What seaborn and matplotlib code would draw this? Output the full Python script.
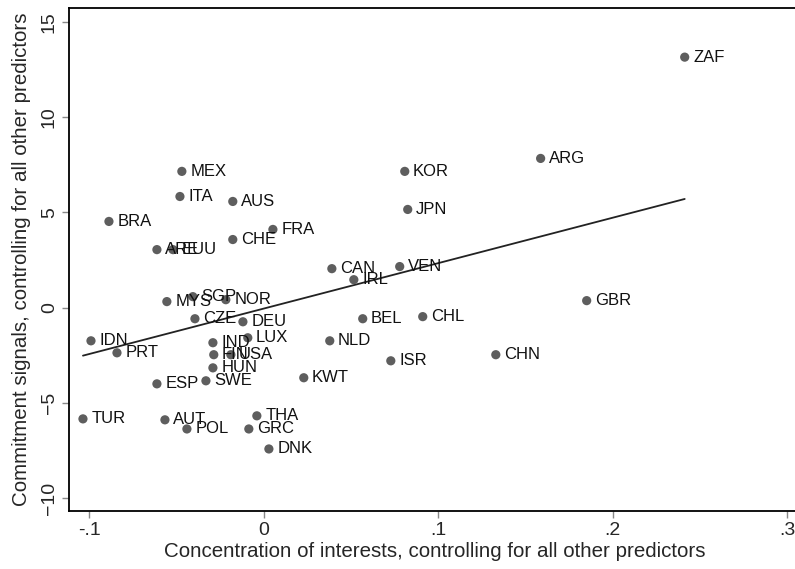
import numpy as np
import pandas as pd
import seaborn as sns
import matplotlib.pyplot as plt

# country codes and partial-regression values
countries = ["ZAF", "ARG", "KOR", "MEX", "ITA", "AUS", "JPN", "BRA", "FRA", "CHE",
             "ARE", "EUU", "CAN", "IRL", "VEN", "SGP", "NOR", "MYS", "CZE", "DEU",
             "GBR", "BEL", "CHL", "IDN", "PRT", "IND", "LUX", "FIN", "USA", "HUN",
             "NLD", "CHN", "ISR", "KWT", "ESP", "SWE", "TUR", "AUT", "POL", "THA",
             "GRC", "DNK"]
concentration = [0.2413, 0.1587, 0.0808, -0.0470, -0.0481, -0.0178, 0.0825, -0.0888, 0.0052, -0.0178,
                 -0.0613, -0.0521, 0.0390, 0.0516, 0.0779, -0.0407, -0.0218, -0.0556, -0.0395, -0.0120,
                 0.1851, 0.0567, 0.0911, -0.0991, -0.0842, -0.0292, -0.0092, -0.0287, -0.0189, -0.0292,
                 0.0378, 0.1330, 0.0728, 0.0229, -0.0613, -0.0332, -0.1037, -0.0567, -0.0441, -0.0040,
                 -0.0086, 0.0029]
commitment = [13.16, 7.84, 7.16, 7.16, 5.84, 5.58, 5.16, 4.53, 4.11, 3.58,
              3.05, 3.05, 2.05, 1.47, 2.16, 0.58, 0.42, 0.32, -0.58, -0.74,
              0.37, -0.58, -0.47, -1.74, -2.37, -1.84, -1.58, -2.47, -2.47, -3.16,
              -1.74, -2.47, -2.79, -3.68, -4.00, -3.84, -5.84, -5.89, -6.37, -5.68,
              -6.37, -7.42]

x_ticks = [-0.1, 0, 0.1, 0.2, 0.3]
x_ticklabels = ["-.1", "0", ".1", ".2", ".3"]
y_ticks = [-10, -5, 0, 5, 10, 15]

df = pd.DataFrame({"country": countries, "x": concentration, "y": commitment})

sns.set_style("ticks")
plt.rcParams["font.family"] = ["Liberation Sans", "DejaVu Sans"]

fig = plt.figure(figsize=(7.95, 5.69), dpi=100)
ax = fig.add_axes([0.0868, 0.1019, 0.9208, 0.884])

sns.regplot(data=df, x="x", y="y", ci=None, scatter=False, ax=ax,
            line_kws={"color": "#222222", "lw": 1.3})
sns.scatterplot(data=df, x="x", y="y", ax=ax, color="#5e5e5e", s=44,
                edgecolor="none", zorder=3)

for _, r in df.iterrows():
    ax.annotate(r["country"], (r["x"], r["y"]), xytext=(6, 0),
                textcoords="offset points", ha="left", va="center",
                fontsize=12, color="#111111")

ax.set_xlim(-0.1117, 0.308)
ax.set_ylim(-10.68, 15.74)
ax.set_xticks(x_ticks)
ax.set_xticklabels(x_ticklabels)
ax.set_yticks(y_ticks)
ax.tick_params(axis="both", direction="out", length=5, width=1, labelsize=14,
               color="#888888", pad=3)
plt.setp(ax.get_yticklabels(), rotation=90, va="center")

ax.set_xlabel("Concentration of interests, controlling for all other predictors",
              fontsize=14.8, labelpad=2)
ax.set_ylabel("Commitment signals, controlling for all other predictors",
              fontsize=14.8, labelpad=7)
for s in ax.spines.values():
    s.set_color("black")
    s.set_linewidth(1.3)

fig.savefig("out.png", dpi=100)
